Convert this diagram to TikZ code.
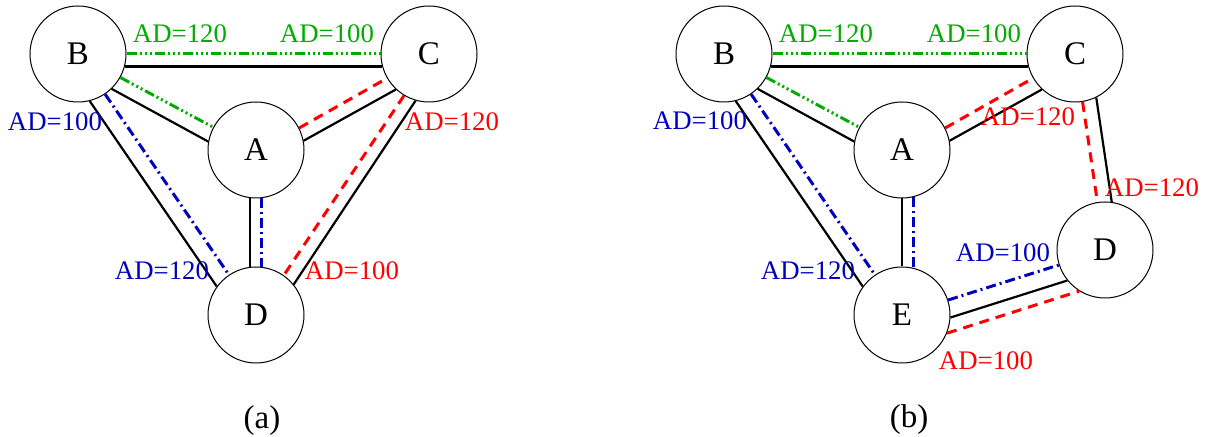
\documentclass[tikz,border=0pt]{standalone}
\usepackage{fontspec}
\setmainfont{Liberation Serif}
\usetikzlibrary{positioning}
\definecolor{adgreen}{RGB}{0,172,0}
\definecolor{adblue}{RGB}{0,0,190}
\definecolor{adred}{RGB}{255,0,0}

\begin{document}
\begin{tikzpicture}[
  x=0.5pt, y=-0.5pt,
  % routers, labels and the three kinds of path
  rt/.style={circle, draw, line width=0.5pt, minimum size=48pt, inner sep=0pt,
             font=\fontsize{16.5}{18}\selectfont},
  lab/.style={inner sep=0pt, font=\fontsize{13.4}{15}\selectfont},
  subcap/.style={inner sep=0pt, font=\fontsize{16.5}{18}\selectfont},
  link/.style={black, line width=1.1pt},
  gpath/.style={adgreen, line width=1.5pt,
                dash pattern=on 5pt off 1.5pt on 1pt off 1.5pt on 1pt off 1.5pt on 1pt off 1.5pt},
  bpath/.style={adblue, line width=1.5pt, dash pattern=on 5pt off 2pt on 1pt off 2pt},
  rpath/.style={adred, line width=1.5pt, dash pattern=on 5pt off 3.5pt},
]
\useasboundingbox (0,0) rectangle (1206,437);

%% ── (a) routers ───────────────────────────────────────────────────
\node[rt] (Ba) at (78,54)   {B};
\node[rt] (Ca) at (429,54)  {C};
\node[rt] (Aa) at (256,150) {A};
\node[rt] (Da) at (256,315) {D};

%% ── (a) links and paths ───────────────────────────────────────────
\draw[link]  (Ba.-15) -- (Ca.195);
\draw[gpath] (Ba.0)   -- (Ca.180);
\draw[link]  (Ba.-46) -- (Aa.170);
\draw[gpath] (Ba.-29) -- (Aa.152);
\draw[link]  (Aa.11)  -- (Ca.227);
\draw[rpath] (Aa.27)  -- (Ca.210);
\draw[link]  (Ba.-76) -- (Da.144);
\draw[bpath] (Ba.-56) -- (Da.124);
\draw[link]  (Aa.-97) -- (Da.97);
\draw[bpath] (Aa.-83) -- (Da.83);
\draw[link]  (Ca.254) -- (Da.39);
\draw[rpath] (Ca.239) -- (Da.55);

%% ── (a) labels ────────────────────────────────────────────────────
\node[lab, text=adgreen] (ga1) at (180,34)  {AD=120};
\node[lab, text=adgreen] (ga2) at (327,34)  {AD=100};
\node[lab, text=adblue]  (ba1) at (55,122)  {AD=100};
\node[lab, text=adred]   (ra1) at (452,122) {AD=120};
\node[lab, text=adblue]  (ba2) at (162,271) {AD=120};
\node[lab, text=adred]   (ra2) at (352,271) {AD=100};
\node[subcap] (capa) at (262,421) {(a)};

%% ── (b) routers ───────────────────────────────────────────────────
\node[rt] (Bb) at (724,54)   {B};
\node[rt] (Cb) at (1075,54)  {C};
\node[rt] (Ab) at (902,150)  {A};
\node[rt] (Eb) at (902,315)  {E};
\node[rt] (Db) at (1105,250) {D};

%% ── (b) links and paths ───────────────────────────────────────────
\draw[link]  (Bb.-15) -- (Cb.195);
\draw[gpath] (Bb.0)   -- (Cb.180);
\draw[link]  (Bb.-46) -- (Ab.170);
\draw[gpath] (Bb.-29) -- (Ab.152);
\draw[link]  (Ab.11)  -- (Cb.227);
\draw[rpath] (Ab.27)  -- (Cb.210);
\draw[link]  (Bb.-76) -- (Eb.144);
\draw[bpath] (Bb.-56) -- (Eb.124);
\draw[link]  (Ab.-90) -- (Eb.90);
\draw[bpath] (Ab.-76) -- (Eb.76);
\draw[link]  (Cb.-64) -- (Db.82);
\draw[rpath] (Cb.-81) -- (Db.99);
\draw[link]  (Eb.-3)  -- (Db.219);
\draw[bpath] (Eb.18)  -- (Db.198);
\draw[rpath] (Eb.-22) -- (Db.238);

%% ── (b) labels ────────────────────────────────────────────────────
\node[lab, text=adgreen] (gb1) at (826,34)   {AD=120};
\node[lab, text=adgreen] (gb2) at (974,34)   {AD=100};
\node[lab, text=adblue]  (bb1) at (700,121)  {AD=100};
\node[lab, text=adred]   (rb1) at (1028,117) {AD=120};
\node[lab, text=adred]   (rb2) at (1152,188) {AD=120};
\node[lab, text=adblue]  (bb2) at (808,271)  {AD=120};
\node[lab, text=adblue]  (bb3) at (1003,253) {AD=100};
\node[lab, text=adred]   (rb3) at (986,361)  {AD=100};
\node[subcap] (capb) at (909,420) {(b)};

\end{tikzpicture}
\end{document}
